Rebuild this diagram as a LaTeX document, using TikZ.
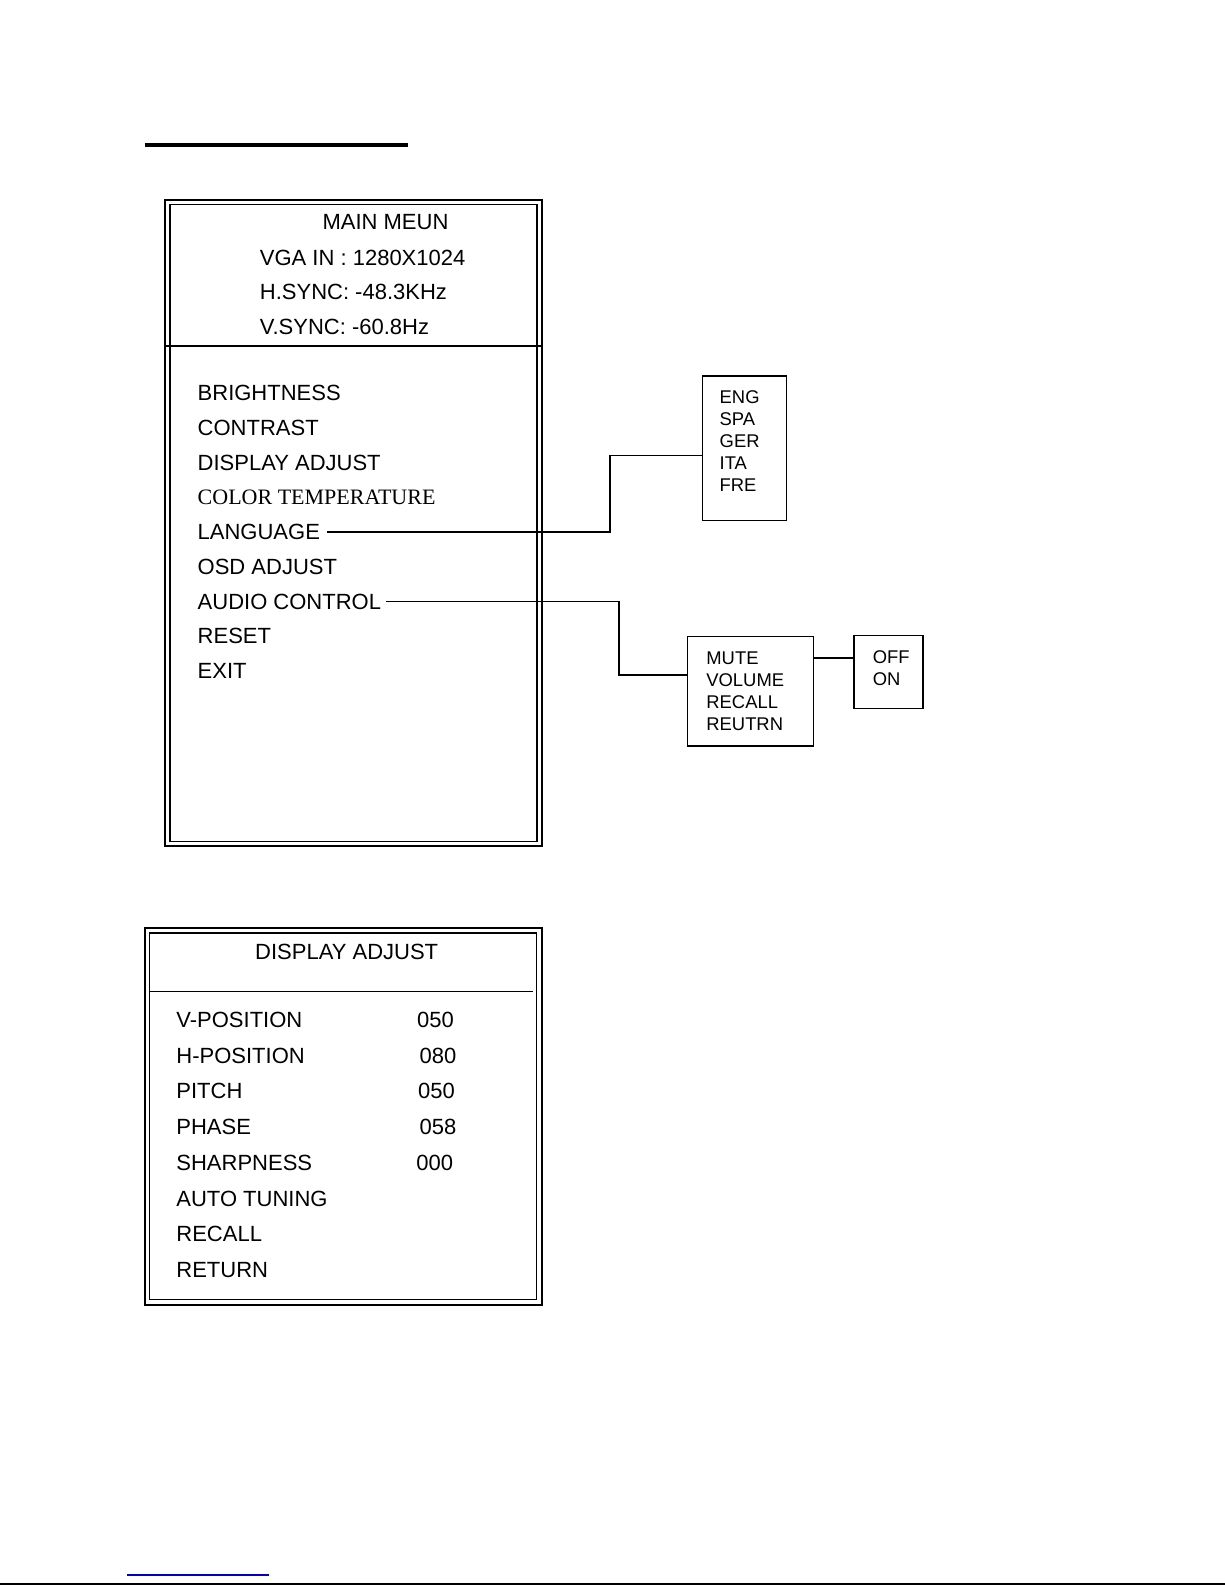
\documentclass[tikz,border=0pt]{standalone}
\usepackage{fontspec}
\setmainfont{Liberation Sans}
\newfontfamily\menuserif{Liberation Serif}
\usetikzlibrary{positioning}
\definecolor{linkblue}{RGB}{0,0,204}

\tikzset{
  outerframe/.style={line width=1pt},
  innerframe/.style={line width=0.8pt},
  menuitem/.style={anchor=west, inner sep=1.5pt, font=\fontsize{11}{13}\selectfont},
  subitem/.style={anchor=west, inner sep=0pt, font=\fontsize{9.2}{11}\selectfont},
  subbox/.style={draw, line width=0.75pt, inner sep=0pt},
  link/.style={line width=0.75pt},
}

\begin{document}
\begin{tikzpicture}[x=0.5pt, y=-0.5pt]
\useasboundingbox (0,0) rectangle (1225,1585);
\draw[line width=2pt] (144.5,144.5)--(408,144.5) ; %Titel-Strich

%Hauptmenue
\draw[outerframe] (165,200) rectangle (541.7,846);
\draw[innerframe] (170,204.5) rectangle (536.7,841.5);
\draw[innerframe] (165,345.7)--(541.7,345.7);
\node[menuitem, anchor=center] (maintitle) at (385.5,222.5) {MAIN MEUN};
\node[menuitem] (vgain) at (256.5,257.5) {VGA IN : 1280X1024};
\node[menuitem] (hsync) at (256.5,292) {H.SYNC: -48.3KHz};
\node[menuitem] (vsync) at (256.5,326.5) {V.SYNC: -60.8Hz};
\foreach \entry [count=\i] in {BRIGHTNESS, CONTRAST, DISPLAY ADJUST,
    {\menuserif COLOR TEMPERATURE}, LANGUAGE, OSD ADJUST, AUDIO CONTROL, RESET, EXIT}
  \node[menuitem] (menu\i) at (194.3,393.3+34.7*\i-34.7) {\entry};

%Sprache
\node[subbox, minimum width=42pt, minimum height=72.3pt] (langbox) at (744.5,448.3) {};
\foreach \lng [count=\i] in {ENG, SPA, GER, ITA, FRE}
  \node[subitem] (lang\i) at (719.3,375+22*\i) {\lng};
\coordinate (langbend) at (610,455.7);
\draw[link] ([xshift=2pt]menu5.east) -| (langbend) -- (langbend -| langbox.west);

%Audio
\node[subbox, minimum width=63.15pt, minimum height=54.65pt] (audiobox) at (750.45,691.35) {};
\foreach \aud [count=\i] in {MUTE, VOLUME, RECALL, REUTRN}
  \node[subitem] (audio\i) at (706,636+22*\i) {\aud};
\coordinate (audiobend) at (619,675);
\draw[link] ([xshift=1pt]menu7.east) -| (audiobend) -- (audiobend -| audiobox.west);

\node[subbox, minimum width=34.4pt, minimum height=36.4pt] (offbox) at (888.4,672.1) {};
\foreach \sw [count=\i] in {OFF, ON}
  \node[subitem] (onoff\i) at (872.5,636+21.5*\i) {\sw};
\draw[link] (audiobox.east |- audio1) -- (offbox.west |- audio1);

%Display adjust
\draw[outerframe] (144.5,928) rectangle (541.7,1304.5);
\draw[innerframe] (149.5,933) rectangle (536.5,1299.5);
\draw[innerframe] (149.5,991.5)--(533,991.5);
\node[menuitem, anchor=center] (disptitle) at (346.7,951.5) {DISPLAY ADJUST};
\foreach \entry [count=\i] in {V-POSITION, H-POSITION, PITCH, PHASE, SHARPNESS,
    AUTO TUNING, RECALL, RETURN}
  \node[menuitem] (disp\i) at (173,1020+35.7*\i-35.7) {\entry};
\foreach \val/\vx [count=\i] in {050/416.7, 080/419.3, 050/417.7, 058/419.3, 000/416}
  \node[menuitem] (dispval\i) at (\vx-3,1020+35.7*\i-35.7) {\val};

%Seitenende
\draw[linkblue, line width=0.6pt] (127,1575)--(269,1575);
\draw[line width=1pt] (0,1583.5)--(1225,1583.5);
\end{tikzpicture}
\end{document}
